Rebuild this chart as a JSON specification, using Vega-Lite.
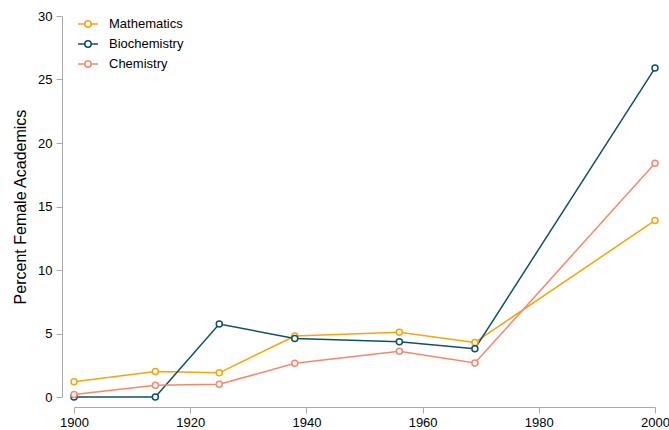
{
  "$schema": "https://vega.github.io/schema/vega-lite/v6.json",
  "autosize": "none",
  "width": 581,
  "height": 381,
  "padding": {"left": 74, "top": 16, "right": 14, "bottom": 33},
  "config": {"view": {"stroke": null}, "font": "Liberation Sans"},
  "data": {"values": [
    {"year": 1900, "field": "Mathematics", "pct": 1.2},
    {"year": 1914, "field": "Mathematics", "pct": 2.0},
    {"year": 1925, "field": "Mathematics", "pct": 1.9},
    {"year": 1938, "field": "Mathematics", "pct": 4.8},
    {"year": 1956, "field": "Mathematics", "pct": 5.1},
    {"year": 1969, "field": "Mathematics", "pct": 4.3},
    {"year": 2000, "field": "Mathematics", "pct": 13.9},
    {"year": 1900, "field": "Biochemistry", "pct": 0.0},
    {"year": 1914, "field": "Biochemistry", "pct": 0.0},
    {"year": 1925, "field": "Biochemistry", "pct": 5.75},
    {"year": 1938, "field": "Biochemistry", "pct": 4.6},
    {"year": 1956, "field": "Biochemistry", "pct": 4.35},
    {"year": 1969, "field": "Biochemistry", "pct": 3.8},
    {"year": 2000, "field": "Biochemistry", "pct": 25.9},
    {"year": 1900, "field": "Chemistry", "pct": 0.2},
    {"year": 1914, "field": "Chemistry", "pct": 0.92},
    {"year": 1925, "field": "Chemistry", "pct": 1.0},
    {"year": 1938, "field": "Chemistry", "pct": 2.65},
    {"year": 1956, "field": "Chemistry", "pct": 3.6},
    {"year": 1969, "field": "Chemistry", "pct": 2.68},
    {"year": 2000, "field": "Chemistry", "pct": 18.4}
  ]},
  "mark": {"type": "line", "strokeWidth": 1.5, "point": {"filled": false, "fill": "white", "size": 36, "strokeWidth": 1.5}},
  "encoding": {
    "x": {"field": "year", "type": "quantitative", "scale": {"domain": [1900, 2000], "zero": false, "nice": false},
      "axis": {"title": null, "format": "d", "values": [1900, 1920, 1940, 1960, 1980, 2000], "grid": false, "offset": 10, "labelFontSize": 13, "labelColor": "#000", "domainColor": "#aaa", "tickColor": "#aaa", "tickSize": 6, "labelPadding": 3, "labelFlush": false}},
    "y": {"field": "pct", "type": "quantitative", "scale": {"domain": [0, 30], "nice": false},
      "axis": {"title": "Percent Female Academics", "titleFontSize": 16, "titleFontWeight": "normal", "titleColor": "#000", "titlePadding": 9, "values": [0, 5, 10, 15, 20, 25, 30], "grid": false, "offset": 12, "labelFontSize": 13, "labelColor": "#000", "domainColor": "#aaa", "tickColor": "#aaa", "tickSize": 6, "labelPadding": 4, "labelFlush": false}},
    "color": {"field": "field", "type": "nominal", "scale": {"domain": ["Mathematics", "Biochemistry", "Chemistry"], "range": ["#f5a40e", "#0e5068", "#f7876a"]},
      "legend": {"title": null, "orient": "none", "legendX": 3, "legendY": -3, "labelFontSize": 13, "labelColor": "#000", "rowPadding": 2, "symbolSize": 400, "symbolStrokeWidth": 1.5, "symbolFillColor": "white", "symbolType": "M-1,0L-0.32,0M0.32,0L1,0M-0.32,0A0.32,0.32 0 1,1 0.32,0A0.32,0.32 0 1,1 -0.32,0Z", "labelOffset": 10}}
  }
}
